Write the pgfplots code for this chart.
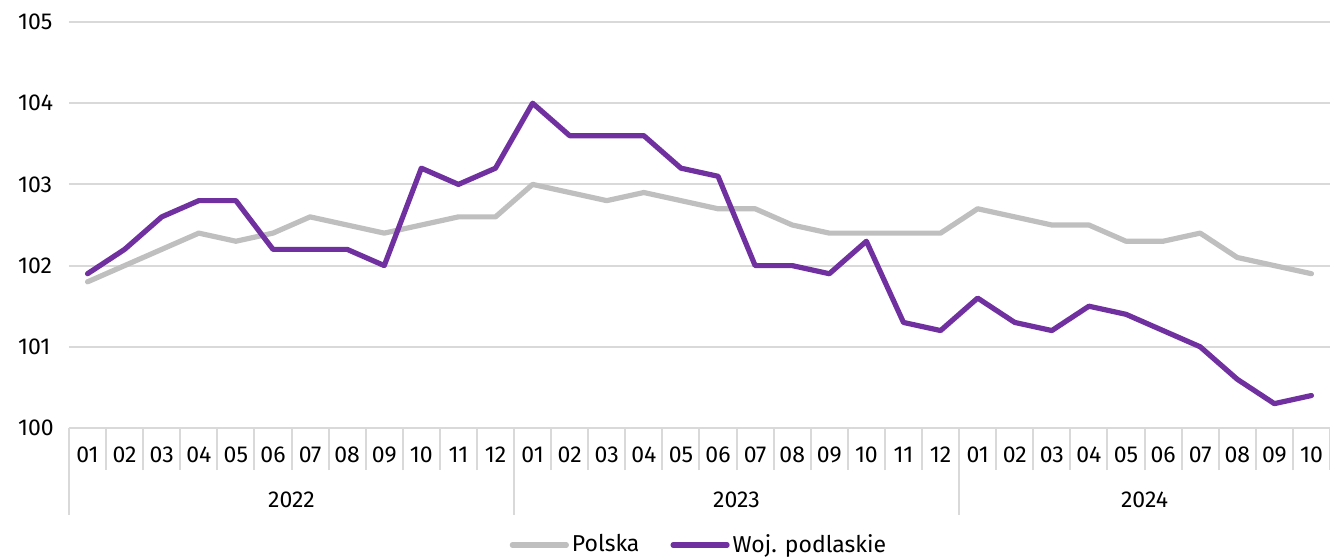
\documentclass[border=0pt]{standalone}
\usepackage{pgfplots}
\pgfplotsset{compat=1.18}
\usepackage{pgfplotstable}
\usepackage{fontspec}
\setmainfont{Fira Sans}
\definecolor{cPol}{RGB}{191,191,191}
\definecolor{cPod}{RGB}{112,48,160}
\definecolor{cGrid}{RGB}{217,217,217}

\pgfplotstableread{
idx pol pod
0 101.8 101.9
1 102.0 102.2
2 102.2 102.6
3 102.4 102.8
4 102.3 102.8
5 102.4 102.2
6 102.6 102.2
7 102.5 102.2
8 102.4 102.0
9 102.5 103.2
10 102.6 103.0
11 102.6 103.2
12 103.0 104.0
13 102.9 103.6
14 102.8 103.6
15 102.9 103.6
16 102.8 103.2
17 102.7 103.1
18 102.7 102.0
19 102.5 102.0
20 102.4 101.9
21 102.4 102.3
22 102.4 101.3
23 102.4 101.2
24 102.7 101.6
25 102.6 101.3
26 102.5 101.2
27 102.5 101.5
28 102.3 101.4
29 102.3 101.2
30 102.4 101.0
31 102.1 100.6
32 102.0 100.3
33 101.9 100.4
}\data

\begin{document}
\fontsize{11.5}{14}\selectfont
\begin{tikzpicture}
\useasboundingbox (-34.5pt,-64.5pt) rectangle (630.5pt,214pt);
\begin{axis}[
    scale only axis,
    width=630.5pt, height=203pt,
    xmin=-0.5, xmax=33.5,
    ymin=100, ymax=105,
    ytick={100,...,105},
    xtick={0,...,33},
    xticklabels={01,02,03,04,05,06,07,08,09,10,11,12,
                 01,02,03,04,05,06,07,08,09,10,11,12,
                 01,02,03,04,05,06,07,08,09,10},
    tick pos=left,
    major tick length=0pt,
    axis line style={draw=none},
    ymajorgrids,
    grid style={cGrid, line width=1pt},
    extra x ticks={-0.5,0.5,...,33.5},
    extra x tick labels={},
    extra x tick style={major tick length=21pt, tick align=outside,
        tick style={cGrid, line width=1pt}, grid=none},
    /pgf/number format/assume math mode=true,
    ticklabel style={font=\fontsize{11.5}{14}\selectfont},
    xticklabel style={anchor=center, yshift=-13.5pt},
    yticklabel style={anchor=west, xshift=-29.5pt},
    clip=false,
    legend columns=2,
    legend style={at={(axis description cs:0.5,0)}, anchor=center, yshift=-58.5pt,
        draw=none, fill=none, font=\fontsize{11.5}{14}\selectfont,
        nodes={inner sep=1.5pt},
        /tikz/every even column/.append style={column sep=14pt}},
    legend image code/.code={\draw[#1] (0pt,0pt) -- (27pt,0pt);},
    every axis plot/.append style={line width=2.6pt, line join=round, line cap=round},
]
\addplot[cPol] table[x=idx, y=pol] {\data};
\addplot[cPod] table[x=idx, y=pod] {\data};
\legend{Polska,Woj. podlaskie}
\draw[cGrid, line width=1pt] (axis cs:-0.5,100) -- ([yshift=-43.5pt]axis cs:-0.5,100);
\draw[cGrid, line width=1pt] (axis cs:11.5,100) -- ([yshift=-43.5pt]axis cs:11.5,100);
\draw[cGrid, line width=1pt] (axis cs:23.5,100) -- ([yshift=-43.5pt]axis cs:23.5,100);
\node at (axis cs:5.5,100) [yshift=-36pt] {2022};
\node at (axis cs:17.5,100) [yshift=-36pt] {2023};
\node at (axis cs:28.5,100) [yshift=-36pt] {2024};
\end{axis}
\end{tikzpicture}
\end{document}
